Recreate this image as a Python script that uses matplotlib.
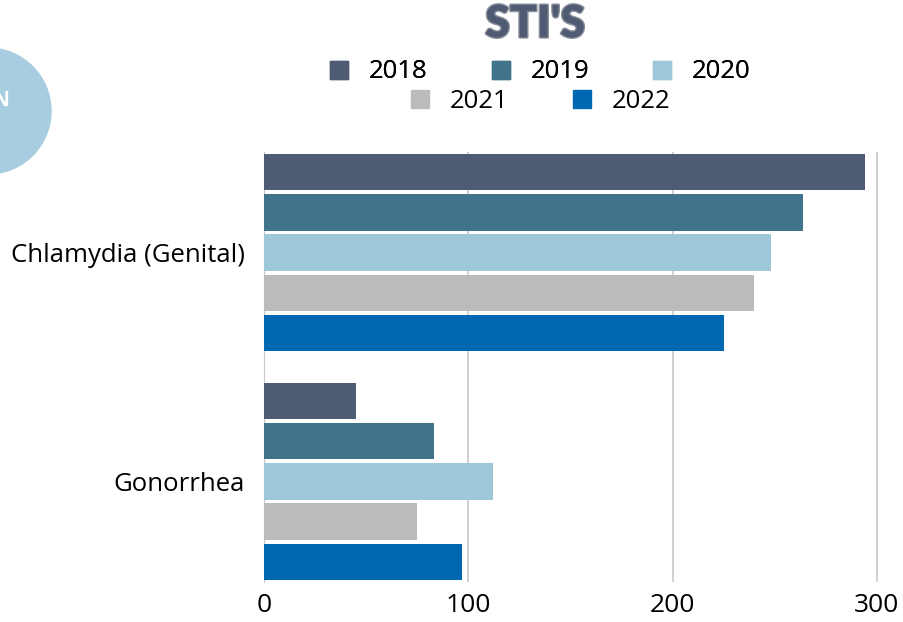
import matplotlib.pyplot as plt
import matplotlib.patheffects as pe
from matplotlib.patches import Circle, Patch
import numpy as np

# 数据
categories = ["Chlamydia (Genital)", "Gonorrhea"]
years = ["2018", "2019", "2020", "2021", "2022"]
v2018 = [294, 45]
v2019 = [264, 83]
v2020 = [248, 112]
v2021 = [240, 75]
v2022 = [225, 97]
colors = ["#4f5b73", "#41738a", "#9fc7da", "#bbbbbb", "#0068b0"]

plt.rcParams['font.family'] = ['Open Sans', 'DejaVu Sans']

fig = plt.figure(figsize=(9.04, 6.22), dpi=100)
ax = fig.add_axes([0.292, 0.0643, 0.6825, 0.6913])

series = [v2018, v2019, v2020, v2021, v2022]
pitch = 0.176
height = 0.16
y = np.arange(len(categories))
for i, (vals, c) in enumerate(zip(series, colors)):
    ax.barh(y - 2 * pitch + i * pitch, vals, height=height, color=c, zorder=3)

ax.set_ylim(1.44, -0.44)
ax.set_xlim(0, 302)
ax.set_xticks([0, 100, 200, 300])
ax.set_yticks(y)
ax.set_yticklabels(categories)
ax.tick_params(axis='y', length=0, labelsize=18.5, pad=14)
ax.tick_params(axis='x', length=0, labelsize=19, pad=8)
ax.grid(axis='x', color='#c8c8c8', linewidth=1.2, zorder=0)
for s in ['top', 'right', 'bottom']:
    ax.spines[s].set_visible(False)
ax.spines['left'].set_color('#c8c8c8')

# 标题
fig.text(0.592, 0.961, "STI'S", ha='center', va='center', fontsize=32,
         fontweight='heavy', family=['Lato', 'DejaVu Sans'], color='#4f5b73',
         path_effects=[pe.withStroke(linewidth=2, foreground='#8a8f99')])

# 图例: 两行
handles = [Patch(color=c) for c in colors]
leg_kw = dict(loc='center', frameon=False, fontsize=18.5, handlelength=0.7,
              handleheight=0.7, columnspacing=2.5, handletextpad=0.8)
leg1 = fig.legend(handles[:3], years[:3], ncol=3,
                  bbox_to_anchor=(0.598, 1 - 72 / 622), **leg_kw)
fig.add_artist(leg1)
fig.legend(handles[3:], years[3:], ncol=2,
           bbox_to_anchor=(0.598, 1 - 101 / 622), **leg_kw)

# 左上角的圆
circ = Circle((-12, 622 - 111), 63, transform=None, color='#a9cde0', zorder=0)
fig.patches.append(circ)
fig.text(9 / 904, 1 - 100 / 622, "N", ha='right', va='center', color='white',
         fontsize=15, fontweight='bold')

fig.savefig("out.png", dpi=100)
